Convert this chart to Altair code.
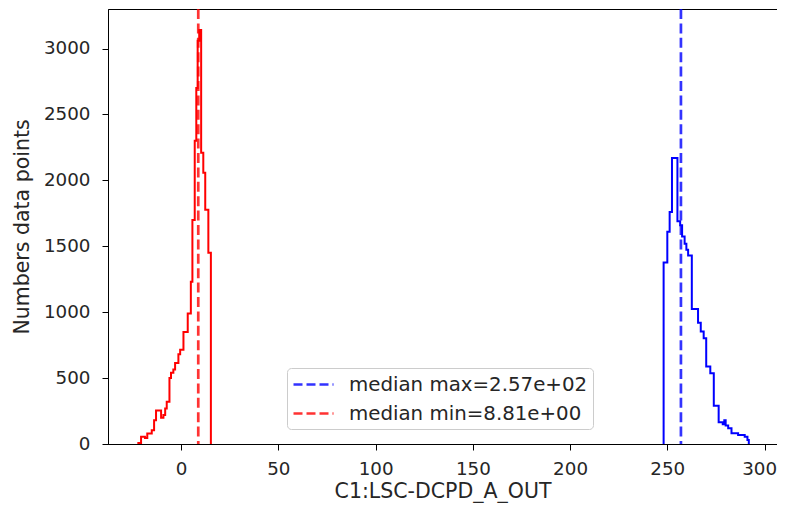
import altair as alt
import pandas as pd

# Histogram of minima (red): bin left edges (last value = right edge) and counts
red_edges = [-22.0, -20.6, -18.6, -17.4, -15.1, -13.9, -12.9, -10.3, -9.1, -8.2,
             -7.4, -6.0, -5.2, -4.0, -3.1, -1.4, -0.5, 1.2, 3.4, 5.0,
             5.8, 7.0, 7.8, 8.5, 9.3, 10.3, 11.4, 12.4, 14.0, 15.3]
red_counts = [8, 55, 45, 80, 105, 180, 255, 200, 220, 270,
              320, 500, 540, 565, 615, 680, 715, 850, 990, 1230,
              1700, 2300, 2700, 3060, 3140, 2210, 2057, 1777, 1450]

# Histogram of maxima (blue)
blue_edges = [248.1, 250.0, 251.2, 252.4, 255.2, 256.6, 257.6, 258.9, 259.8, 260.7,
              262.6, 265.8, 267.2, 268.7, 270.0, 272.1, 273.9, 276.4, 278.5, 279.3,
              280.0, 281.3, 283.0, 286.4, 289.8, 291.2, 291.9]
blue_counts = [1377, 1610, 1760, 2170, 1690, 1660, 1575, 1520, 1473, 1430,
               1025, 920, 853, 803, 587, 537, 290, 165, 150, 180,
               140, 120, 81, 68, 55, 30]

median_values = [257.0, 8.81]
median_labels = ["median max=2.57e+02", "median min=8.81e+00"]
median_colors = ["#0000ff", "#ff0000"]

x_ticks = [0, 50, 100, 150, 200, 250, 300]
y_ticks = [0, 500, 1000, 1500, 2000, 2500, 3000]

FONT = "DejaVu Sans"
FS_TICK = 18.3
FS_TITLE = 20.5
FS_LEG = 19.8


def step_table(edges, counts):
    xs = [edges[0]]
    ys = [0]
    for e, c in zip(edges[:-1], counts):
        xs.append(e)
        ys.append(c)
    xs += [edges[-1], edges[-1]]
    ys += [counts[-1], 0]
    return pd.DataFrame({"x": xs, "y": ys, "i": list(range(len(xs)))})


x_scale = alt.Scale(domain=[-37.6, 306.4], nice=False, zero=False)
y_scale = alt.Scale(domain=[0, 3300], nice=False)

common = dict(grid=False, tickSize=6, tickColor="black", domainColor="black",
              labelFontSize=FS_TICK, titleFontSize=FS_TITLE, labelFont=FONT, titleFont=FONT,
              titleFontWeight="normal", labelColor="#262626", titleColor="#262626",
              format="d")
x_axis = alt.Axis(values=x_ticks, title="C1:LSC-DCPD_A_OUT",
                  labelPadding=10, titlePadding=4,
                  labelFlush=15, labelFlushOffset=12, **common)
y_axis = alt.Axis(values=y_ticks, title="Numbers data points",
                  labelPadding=12, titlePadding=11, labelFlush=False, **common)


def hist_layer(edges, counts, color):
    return alt.Chart(step_table(edges, counts)).mark_line(
        interpolate="step-after", color=color, strokeWidth=2, clip=True
    ).encode(
        x=alt.X("x:Q", scale=x_scale, axis=x_axis),
        y=alt.Y("y:Q", scale=y_scale, axis=y_axis),
        order="i:Q",
    )


red = hist_layer(red_edges, red_counts, "#ff0000")
blue = hist_layer(blue_edges, blue_counts, "#0000ff")

medians = alt.Chart(pd.DataFrame({"v": median_values, "label": median_labels})).mark_rule(
    strokeDash=[10, 4.4], strokeWidth=2.7, opacity=0.8
).encode(
    x=alt.X("v:Q", scale=x_scale, axis=x_axis),
    color=alt.Color("label:N",
                    scale=alt.Scale(domain=median_labels, range=median_colors),
                    legend=alt.Legend(title=None, orient="none", legendX=179, legendY=359,
                                      fillColor="white", strokeColor="#cccccc",
                                      cornerRadius=4, padding=5,
                                      symbolType="M-1,0H3", symbolSize=400,
                                      symbolStrokeWidth=2.7, symbolDash=[9, 4],
                                      symbolOpacity=0.8,
                                      labelFont=FONT, labelFontSize=FS_LEG, labelColor="#262626",
                                      labelLimit=0, labelOffset=34, rowPadding=7)),
)

chart = alt.layer(red, blue, medians).properties(
    width=669, height=435,
    autosize=alt.AutoSizeParams(type="none"),
    padding={"left": 100, "top": 1, "right": 0, "bottom": 59},
).configure_view(stroke="black", strokeWidth=1)

chart.save("out.html", embed_options={"renderer": "svg", "actions": False})
